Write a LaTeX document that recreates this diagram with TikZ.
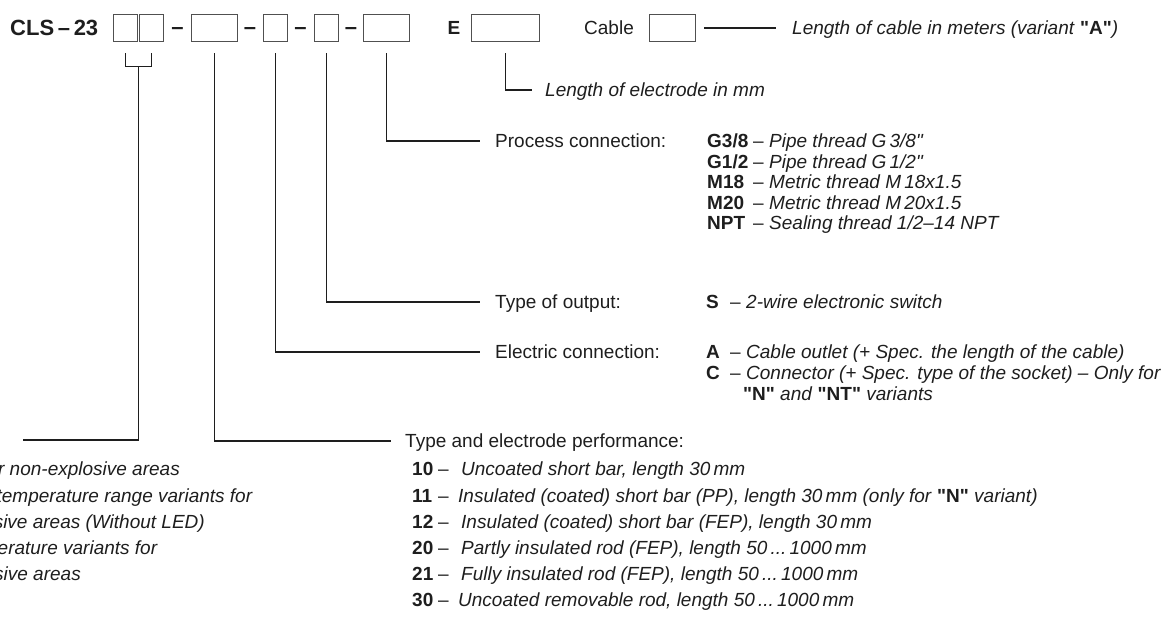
\documentclass[tikz,border=0pt]{standalone}
\usepackage{fontspec}
\setmainfont{Liberation Sans}
\usepackage{xcolor}
\definecolor{tinte}{RGB}{30,30,30}
\definecolor{rahmengrau}{RGB}{80,80,80}

% Kennbuchstabe fett, danach Gedankenstrich
\newcommand{\kode}[3]{\makebox[#1][l]{\textbf{#2}}\makebox[#3][l]{–}}
% gerades Anfuehrungszeichen (ohne TeX-Mapping)
\newcommand{\gq}{\XeTeXglyph\XeTeXcharglyph"22\relax}

\begin{document}
\begin{tikzpicture}[x=1pt, y=-1pt,
    txt/.style={inner sep=0pt, text height=13.6pt, text depth=0pt, text=tinte,
                font=\fontsize{19}{23}\selectfont},
    lbl/.style={txt, anchor=west, inner xsep=15pt},
    feld/.style={draw=rahmengrau, line width=1.4pt, minimum height=27pt, inner sep=0pt, anchor=west},
    leit/.style={draw=tinte, line width=1.1pt}]

    % Rahmen des Bildes
    \useasboundingbox (0,0) rectangle (1165,617);
    \clip (0,0) rectangle (1165,617);

    % Bestellschluessel oben
    \node[txt, anchor=west, text height=15.8pt, font=\fontsize{22}{26}\selectfont\bfseries] (typ) at (10,28) {CLS\,–\,23};
    \node[feld, minimum width=24pt] (b1) at (113,28) {};
    \node[feld, minimum width=24pt] (b2) at (139,28) {};
    \node[txt, font=\fontsize{22}{26}\selectfont\bfseries] (d1) at (177.5,28) {–};
    \node[feld, minimum width=46pt] (b3) at (191,28) {};
    \node[txt, font=\fontsize{22}{26}\selectfont\bfseries] (d2) at (250,28) {–};
    \node[feld, minimum width=24pt] (b4) at (263,28) {};
    \node[txt, font=\fontsize{22}{26}\selectfont\bfseries] (d3) at (300.5,28) {–};
    \node[feld, minimum width=24pt] (b5) at (314,28) {};
    \node[txt, font=\fontsize{22}{26}\selectfont\bfseries] (d4) at (351,28) {–};
    \node[feld, minimum width=46pt] (b6) at (363,28) {};

    % Elektrode und Kabel
    \node[txt, font=\fontsize{19}{23}\selectfont\bfseries] (e) at (454,28) {E};
    \node[feld, minimum width=68pt] (be) at (471,28) {};
    \node[txt, anchor=west] (cab) at (584,28) {Cable};
    \node[feld, minimum width=46pt] (bc) at (649,28) {};
    \node[lbl, inner xsep=16pt] (kabl) at (776,28) {\textit{Length of cable in meters (variant }\textbf{\gq A\gq}\textit{)}};
    \draw[leit] ([xshift=8pt]bc.east) -- (kabl.west);

    % Laenge der Elektrode
    \node[lbl, inner xsep=13pt] (elen) at (532,90) {\textit{Length of electrode in mm}};
    \draw[leit] ([yshift=-11pt]be.south) |- (elen.west);

    % Prozessanschluss
    \node[lbl] (proz) at (480,141) {Process connection:};
    \draw[leit] ([yshift=-11pt]b6.south) |- (proz.west);
    \node[txt, anchor=west] (p1) at (707,141) {\kode{46pt}{G3/8}{16pt}\textit{Pipe thread G\,3/8\gq}};
    \node[txt, anchor=west] (p2) at (707,161.5) {\kode{46pt}{G1/2}{16pt}\textit{Pipe thread G\,1/2\gq}};
    \node[txt, anchor=west] (p3) at (707,182) {\kode{46pt}{M18}{16pt}\textit{Metric thread M\,18x1.5}};
    \node[txt, anchor=west] (p4) at (707,202.5) {\kode{46pt}{M20}{16pt}\textit{Metric thread M\,20x1.5}};
    \node[txt, anchor=west] (p5) at (707,223) {\kode{46pt}{NPT}{16pt}\textit{Sealing thread 1/2–14 NPT}};

    % Ausgang
    \node[lbl] (ausg) at (480,302) {Type of output:};
    \draw[leit] ([yshift=-11pt]b5.south) |- (ausg.west);
    \node[txt, anchor=west] (s1) at (706,302) {\kode{24pt}{S}{16pt}\textit{2-wire electronic switch}};

    % Elektrischer Anschluss
    \node[lbl] (elek) at (480,352) {Electric connection:};
    \draw[leit] ([yshift=-11pt]b4.south) |- (elek.west);
    \node[txt, anchor=west] (a1) at (706,352) {\kode{24pt}{A}{16pt}\textit{Cable outlet (+ Spec. the length of the cable)}};
    \node[txt, anchor=west] (c1) at (706,373) {\kode{24pt}{C}{16pt}\textit{Connector (+ Spec. type of the socket) – Only for}};
    \node[txt, anchor=west] (c2) at (743,394) {\textbf{\gq N\gq} \textit{and} \textbf{\gq NT\gq} \textit{variants}};

    % Elektrodenausfuehrung
    \node[lbl, inner xsep=14pt] (perf) at (391,441) {Type and electrode performance:};
    \draw[leit] ([yshift=-11pt]b3.south) |- (perf.west);
    \node[txt, anchor=west] (r1) at (412,469) {\kode{26pt}{10}{23pt}\textit{Uncoated short bar, length 30\,mm}};
    \node[txt, anchor=west] (r2) at (412,495.2) {\kode{26pt}{11}{20pt}\textit{Insulated (coated) short bar (PP), length 30\,mm (only for }\textbf{\gq N\gq}\textit{ variant)}};
    \node[txt, anchor=west] (r3) at (412,521.4) {\kode{26pt}{12}{23pt}\textit{Insulated (coated) short bar (FEP), length 30\,mm}};
    \node[txt, anchor=west] (r4) at (412,547.6) {\kode{26pt}{20}{23pt}\textit{Partly insulated rod (FEP), length 50\,...\,1000\,mm}};
    \node[txt, anchor=west] (r5) at (412,573.8) {\kode{26pt}{21}{23pt}\textit{Fully insulated rod (FEP), length 50\,...\,1000\,mm}};
    \node[txt, anchor=west] (r6) at (412,600) {\kode{26pt}{30}{20pt}\textit{Uncoated removable rod, length 50\,...\,1000\,mm}};

    % Ausfuehrung (links abgeschnitten)
    \draw[leit] ([yshift=-11pt]b1.south) |- ([yshift=-24pt]b2.south) coordinate[pos=.75] (km) -- ([yshift=-11pt]b2.south);
    \coordinate (links) at (23,440);
    \draw[leit] (km) |- (links);
    \node[txt, anchor=east] (v1) at (180,469) {\textit{for non-explosive areas}};
    \node[txt, anchor=east] (v2) at (253,495.2) {\textit{temperature range variants for}};
    \node[txt, anchor=east] (v3) at (205,521.4) {\textit{explosive areas (Without LED)}};
    \node[txt, anchor=east] (v4) at (158,547.6) {\textit{temperature variants for}};
    \node[txt, anchor=east] (v5) at (81,573.8) {\textit{explosive areas}};

\end{tikzpicture}
\end{document}
